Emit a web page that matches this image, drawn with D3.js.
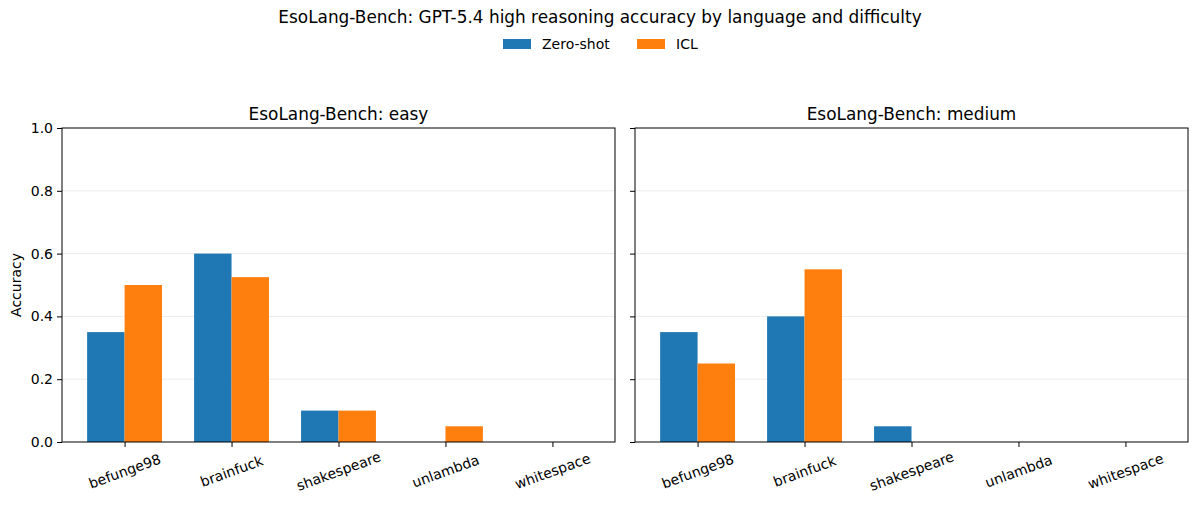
<!DOCTYPE html>
<html><head><meta charset="utf-8">
<script src="https://cdn.jsdelivr.net/npm/d3@7/dist/d3.min.js"></script>
<style>body{margin:0;background:#fff;font-family:"DejaVu Sans",sans-serif;}</style>
</head><body><svg id="c" width="1199" height="506"></svg>
<script>
const languages = ["befunge98","brainfuck","shakespeare","unlambda","whitespace"];
const panels = ["easy","medium"];
const zeroShotEasy = [0.35, 0.60, 0.10, 0.0, 0.0];
const iclEasy = [0.50, 0.525, 0.10, 0.05, 0.0];
const zeroShotMedium = [0.35, 0.40, 0.05, 0.0, 0.0];
const iclMedium = [0.25, 0.55, 0.0, 0.0, 0.0];
const yTicks = [0.0, 0.2, 0.4, 0.6, 0.8, 1.0];
const seriesNames = ["Zero-shot","ICL"];
const colors = ["#1f77b4","#ff7f0e"];
const dataByPanel = {easy:[zeroShotEasy, iclEasy], medium:[zeroShotMedium, iclMedium]};

(function(){
const svg = d3.select("#c");
svg.append("text").attr("x",600).attr("y",23).attr("text-anchor","middle")
  .attr("font-size",16.9).text("EsoLang-Bench: GPT-5.4 high reasoning accuracy by language and difficulty");

const leg = svg.append("g");
const legItems = [{x:503,tx:542},{x:637,tx:676}];
seriesNames.forEach((n,i)=>{
  leg.append("rect").attr("x",legItems[i].x).attr("y",39).attr("width",28).attr("height",10).attr("fill",colors[i]);
  leg.append("text").attr("x",legItems[i].tx).attr("y",49).attr("font-size",14).text(n);
});

const pTop = 128, pBottom = 442;
const panelX = [[62,615],[635,1188]];
const y = d3.scaleLinear().domain([0,1]).range([pBottom, pTop]);
const bw = 0.35;

panels.forEach((p,pi)=>{
  const [x0,x1] = panelX[pi];
  const x = d3.scaleLinear().domain([-0.585, 4.585]).range([x0,x1]);
  const g = svg.append("g");
  g.selectAll(".grid").data(yTicks.filter(t=>t>0&&t<1)).enter().append("line")
    .attr("x1",x0).attr("x2",x1).attr("y1",d=>y(d)).attr("y2",d=>y(d))
    .attr("stroke","#ebebeb").attr("stroke-width",1);
  dataByPanel[p].forEach((vals,si)=>{
    g.selectAll(".b"+si).data(vals).enter().append("rect")
      .attr("x",(d,i)=>x(i + (si===0 ? -bw : 0)))
      .attr("width",x(bw)-x(0))
      .attr("y",d=>y(d)).attr("height",d=>y(0)-y(d))
      .attr("fill",colors[si]);
  });
  g.append("rect").attr("x",x0).attr("y",pTop).attr("width",x1-x0).attr("height",pBottom-pTop)
    .attr("fill","none").attr("stroke","#000").attr("stroke-width",1);
  const ya = d3.axisLeft(y).tickValues(yTicks).tickSize(5).tickPadding(4)
    .tickFormat(pi===0 ? d3.format(".1f") : ()=>"");
  const yg = svg.append("g").attr("transform",`translate(${x0},0)`).call(ya);
  yg.select(".domain").remove();
  yg.selectAll("text").attr("font-size",14).attr("font-family","DejaVu Sans").attr("fill","#000");
  yg.selectAll("line").attr("stroke","#000");
  const xa = d3.axisBottom(x).tickValues(d3.range(languages.length)).tickSize(5).tickFormat(i=>languages[i]);
  const xg = svg.append("g").attr("transform",`translate(0,${pBottom})`).call(xa);
  xg.select(".domain").remove();
  xg.selectAll("line").attr("stroke","#000");
  xg.selectAll("text").attr("font-size",14).attr("font-family","DejaVu Sans").attr("fill","#000")
    .attr("text-anchor","middle").attr("dy",null).attr("y",0)
    .attr("transform","translate(0,30) rotate(-20)")
    .attr("dominant-baseline","middle");
  svg.append("text").attr("x",(x0+x1)/2).attr("y",120).attr("text-anchor","middle")
    .attr("font-size",16.9).text("EsoLang-Bench: "+p);
});
svg.append("text").attr("transform","translate(21,285) rotate(-90)").attr("text-anchor","middle")
  .attr("font-size",14).text("Accuracy");
})();
</script></body></html>
